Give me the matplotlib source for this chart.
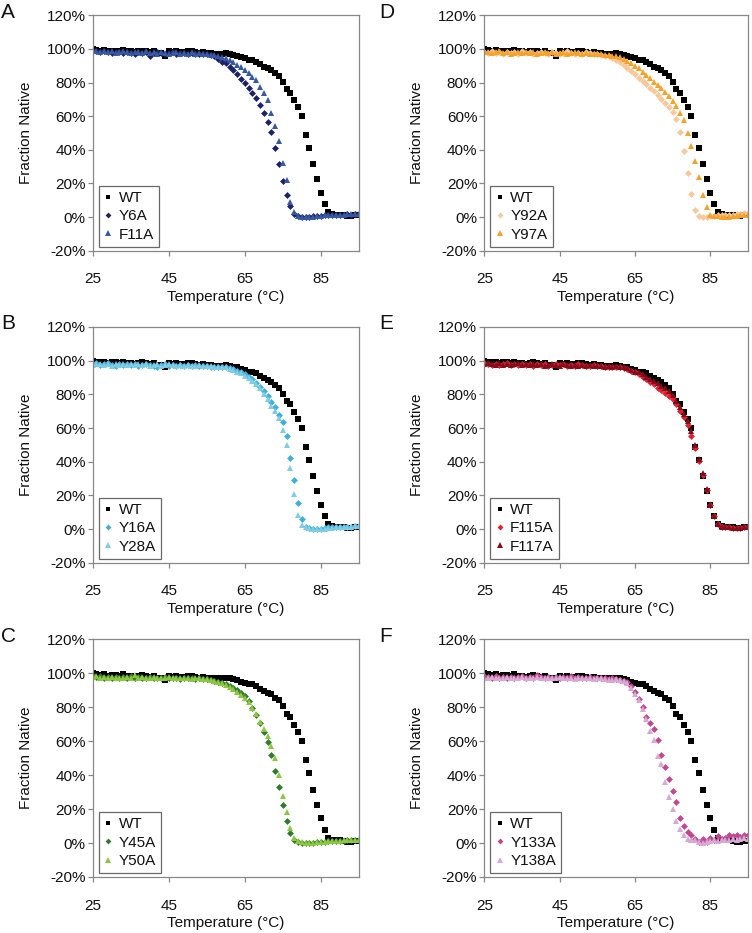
import numpy as np
import matplotlib
matplotlib.use("Agg")
import matplotlib.pyplot as plt
from matplotlib.ticker import FuncFormatter, FixedLocator, MultipleLocator

plt.rcParams['font.family'] = ['Liberation Sans', 'DejaVu Sans']

# melting curves, read every 1 degC from 25 to 95
temps = np.arange(25, 96)
x_ticks = [25, 45, 65, 85]

wt = [100, 99.5, 99, 99.5, 98.5, 99, 99, 98.5, 99.5, 98.5, 98.5, 98, 98.5, 99, 98.5,
      98, 98.5, 97.5, 97.5, 96, 98.5, 98, 98.5, 98, 98, 98.5, 98.5, 98, 97.5, 98,
      97.5, 97.5, 97, 97, 97,
      97.5, 97, 96.5, 96, 95, 94.5, 93.5, 93.5, 92.5, 91, 89.5, 88.5, 87.5, 85.5, 84,
      80.5, 76, 74, 69.5, 65.5, 60, 49, 41, 31.5, 22.5, 14.5, 7.5, 3, 2, 1.5,
      1.5, 1, 0.5, 0.5, 1, 1]

y6a = [99, 98.5, 98, 98.5, 98, 97.5, 98, 98, 97.5, 98, 97.5, 97, 98, 97.5, 98,
       96, 97.5, 98, 97.5, 97, 97.5, 98, 97, 97.5, 97.5, 97, 97.5, 97, 97, 97,
       97, 96.5, 95.5, 94, 92.5, 91.5, 89.5, 87.5, 85, 82, 79.5, 77, 74, 71, 66.5,
       62, 56.5, 50.5, 41, 31.5, 21.5, 13, 6.5, 2, 0.5, 0, 0, 0, 0.5, 0.5,
       0.5, 1, 1, 1, 1, 1.5, 1.5, 2, 1.5, 2, 2]
f11a = [98.5, 99, 98, 98.5, 98, 98.5, 97.5, 98, 98.5, 98, 97.5, 98, 98, 97.5, 98.5,
        97.5, 98, 97, 98, 97.5, 97, 97.5, 98, 97, 97.5, 97, 98, 97, 97.5, 97,
        97, 96.5, 96.5, 96, 95, 94.5, 93.5, 92, 90.5, 89, 87.5, 85.5, 83.5, 81.5, 77.5,
        74, 69.5, 62, 54, 45.5, 32, 22, 9, 3, 0.5, 0, 0, 0, 0, 0.5,
        0.5, 1, 1, 1, 1.5, 1.5, 1.5, 2, 2, 2, 2]

y16a = [98, 98.5, 97.5, 98, 98.5, 97.5, 97, 98, 97.5, 98, 97.5, 98, 97, 97.5, 98,
        97.5, 97, 96.5, 97.5, 98, 97, 97.5, 97, 97.5, 97, 97.5, 97, 97.5, 97, 97,
        97, 96.5, 96.5, 96, 96, 96, 95.5, 95, 94, 93, 92, 90.5, 89, 87, 84.5,
        82, 79, 75.5, 72.5, 68, 63.5, 55, 42, 29, 15.5, 6, 1.5, 0.5, 0, 0,
        0, 0.5, 1, 1, 1, 1, 1.5, 1.5, 1.5, 2, 2]
y28a = [97.5, 98, 98, 97.5, 98, 97, 98, 97.5, 98, 97.5, 98, 97.5, 98, 97.5, 98,
        97, 97.5, 98, 97, 97.5, 98, 97.5, 97, 97.5, 97, 97.5, 97, 97, 97.5, 97,
        97, 97, 96.5, 96.5, 96, 96, 95, 94.5, 93.5, 92.5, 91, 89.5, 88, 86, 83.5,
        80.5, 77.5, 73, 70, 66, 59, 50, 36, 21, 8.5, 2.5, 1, 0.5, 0, 0,
        0, 0, 0.5, 0.5, 1, 1, 1, 1.5, 1.5, 2, 2]

y45a = [98.5, 98, 98.5, 97.5, 98, 97.5, 98, 97, 98, 97.5, 98.5, 97.5, 98, 97, 97.5,
        98, 97, 97.5, 97, 98, 97.5, 97, 97.5, 96.5, 97, 97.5, 97, 96.5, 97, 96.5,
        96.5, 96, 95.5, 95, 94.5, 93.5, 92.5, 91.5, 90, 88.5, 86.5, 83.5, 79.5, 75.5, 70.5,
        65.5, 59.5, 52, 42.5, 33, 22.5, 13, 6, 2, 0.5, 0, 0, 0, 0, 0.5,
        0.5, 0.5, 1, 1, 1, 1, 1, 1.5, 1.5, 1.5, 1.5]
y50a = [98, 98.5, 97.5, 98, 97.5, 98, 97.5, 97, 97.5, 98, 97, 99, 97.5, 98, 97,
        97.5, 98, 97.5, 97, 97.5, 98, 97, 97.5, 97, 97.5, 97, 96.5, 97, 97, 96.5,
        96.5, 96, 95.5, 95, 94, 93, 92, 90.5, 89, 87, 85.5, 83, 79.5, 76, 71,
        67, 63, 57, 50, 40, 27.5, 18.5, 9, 3, 1, 0.5, 0, 0, 0, 0.5,
        0.5, 0.5, 1, 1, 1, 1, 1.5, 1.5, 1.5, 1.5, 1.5]

y92a = [98, 97.5, 98.5, 97.5, 98, 97, 98, 97.5, 98, 97, 98.5, 97.5, 98, 97, 97.5,
        98, 97.5, 97, 98, 97.5, 97, 97.5, 98.5, 97.5, 97, 97.5, 97, 98, 97.5, 97,
        97, 96.5, 96, 95.5, 94.5, 93.5, 92, 90.5, 88.5, 87, 85, 83, 81, 79, 77,
        75, 72.5, 70, 68, 65.5, 62.5, 58.5, 50.5, 39, 26, 13.5, 4, 0.5, 0, 0,
        0.5, 0.5, 1, 1, 1.5, 1.5, 1.5, 2, 2, 2.5, 2.5]
y97a = [98.5, 98, 97.5, 98, 98.5, 97.5, 98, 97, 97.5, 98, 97.5, 98, 97.5, 98, 97,
        97.5, 98, 97.5, 98, 97, 97.5, 98, 97, 97.5, 98, 97.5, 97, 97.5, 97, 97,
        97, 97, 96.5, 96.5, 96, 95.5, 95, 94, 93, 91.5, 90, 88.5, 86.5, 84.5, 82.5,
        80.5, 78.5, 76.5, 74.5, 72, 69, 66, 62, 58, 50, 42, 33.5, 24, 13, 6,
        1, 0.5, 0.5, 0, 0, 0, 0.5, 0.5, 1, 1, 1.5]

f115a = [98.5, 98, 97.5, 98, 97.5, 98, 98.5, 97.5, 98, 97.5, 98, 97.5, 98, 97, 98,
         97.5, 98, 97, 97.5, 98, 97.5, 98, 97, 97.5, 97, 98, 97.5, 97, 97, 97.5,
         97, 97, 96.5, 96.5, 96, 96.5, 96, 95.5, 95, 94, 93, 92, 90.5, 89, 87.5,
         86, 84, 82.5, 81, 79, 77, 74, 70, 66.5, 62, 55.5, 48, 40.5, 32, 23,
         14.5, 7.5, 3, 1.5, 1, 1, 0.5, 0.5, 0.5, 1, 1]
f117a = [98, 98.5, 98, 97.5, 98.5, 97.5, 98, 97.5, 98, 98.5, 97.5, 98, 97.5, 98, 97.5,
         98, 97, 97.5, 98, 97.5, 97, 98, 97.5, 97, 97.5, 97, 97.5, 97, 97.5, 97,
         97, 97, 96.5, 97, 96.5, 97, 96.5, 96, 95.5, 94.5, 93.5, 93, 92, 90.5, 89,
         88, 86.5, 85, 83.5, 82, 79.5, 76, 72.5, 68.5, 64, 58, 50, 41.5, 33, 23.5,
         14.5, 7.5, 3, 1.5, 1, 1, 0.5, 0.5, 0.5, 1, 1]

y133a = [98.5, 98, 97.5, 98.5, 97.5, 98, 97, 98, 97.5, 98, 98.5, 97.5, 98, 97.5, 99,
         98, 97.5, 98, 97.5, 98, 97, 98, 97.5, 98.5, 97.5, 98, 97.5, 97, 98, 97.5,
         97.5, 97, 97, 96.5, 97.5, 96.5, 96, 95.5, 95, 92.5, 89, 85, 80, 74.5, 70.5,
         67, 60.5, 52, 45, 37.5, 30.5, 24, 15, 10, 6.5, 4.5, 2.5, 0.5, 2.5, 0.5,
         3, 2, 4, 2.5, 3, 5, 4, 4.5, 3.5, 5, 5]
y138a = [97.5, 97, 98, 97.5, 97, 97.5, 98, 97, 97.5, 97, 98, 97.5, 97, 97.5, 98,
         97, 97.5, 97, 97.5, 97, 98, 97, 97.5, 97, 96.5, 97.5, 97, 97.5, 97, 96.5,
         97, 97, 96.5, 96, 96, 96.5, 96, 95.5, 94, 91.5, 88, 84, 79, 73, 66,
         60.5, 51, 46.5, 36, 27, 20, 13, 8, 4.5, 2.5, 1.5, 1.5, 0.5, 0, 0.5,
         1, 1.5, 1, 2, 1.5, 2, 2.5, 2, 2.5, 3, 2.5]

panel_letters = ["A", "B", "C", "D", "E", "F"]
mutant_names = [("Y6A", "F11A"), ("Y16A", "Y28A"), ("Y45A", "Y50A"),
                ("Y92A", "Y97A"), ("F115A", "F117A"), ("Y133A", "Y138A")]
mutant_data = [(y6a, f11a), (y16a, y28a), (y45a, y50a),
               (y92a, y97a), (f115a, f117a), (y133a, y138a)]
mutant_colors = [("#1c2265", "#3759a3"), ("#3bb0e2", "#80cde3"), ("#2f7a2c", "#8dc63f"),
                 ("#f9c799", "#f6a128"), ("#e3202c", "#860b1d"), ("#c2488e", "#d8a9d6")]

W, H = 752, 933
fig = plt.figure(figsize=(W / 100, H / 100), dpi=100)

col_left = [92.7, 484.3]
col_width = [266.0, 263.7]
row_top = [15.3, 327.0, 639.3]
row_bottom = [250.7, 562.7, 877.0]
letter_base = [18.3, 329.3, 642.5]
letter_x = [1.0, 379.0]

pct = FuncFormatter(lambda v, p: "%d%%" % round(v))
grey = "#888888"

for i in range(6):
    col, row = i // 3, i % 3
    ax = fig.add_axes([col_left[col] / W, 1 - row_bottom[row] / H,
                       col_width[col] / W, (row_bottom[row] - row_top[row]) / H])
    (n1, n2), (d1, d2), (c1, c2) = mutant_names[i], mutant_data[i], mutant_colors[i]
    ax.plot(temps, wt, "s", color="black", ms=3.8, mew=0, label="WT")
    ax.plot(temps, d1, "D", color=c1, ms=3.5, mew=0, label=n1)
    ax.plot(temps, d2, "^", color=c2, ms=4.6, mew=0, label=n2)

    ax.set_xlim(25, 95)
    ax.set_ylim(-20, 120)
    ax.xaxis.set_major_locator(FixedLocator(x_ticks))
    ax.yaxis.set_major_locator(MultipleLocator(20))
    ax.yaxis.set_major_formatter(pct)
    for s in ax.spines.values():
        s.set_color(grey)
        s.set_linewidth(0.9)
    ax.tick_params(axis="both", direction="out", length=3.5, width=0.9, color=grey,
                   labelsize=11, labelcolor="#111111")
    ax.tick_params(axis="x", pad=12)
    ax.tick_params(axis="y", pad=1.5)

    ax.set_xlabel("Temperature (°C)", fontsize=11, color="#111111")
    ax.set_ylabel("Fraction Native", fontsize=11, color="#111111")
    ax.xaxis.set_label_coords(0.5, -0.165)
    ax.yaxis.set_label_coords(-0.225 if col == 0 else -0.228, 0.5)

    leg = ax.legend(loc="lower left", bbox_to_anchor=(0.023, 0.016), borderaxespad=0,
                    fontsize=11, frameon=True, fancybox=False, edgecolor="#444444",
                    handlelength=0.5, handletextpad=0.45, borderpad=0.35,
                    labelspacing=0.28, markerscale=0.85)
    leg.get_frame().set_linewidth(0.9)
    for t in leg.get_texts():
        t.set_color("#111111")

    fig.text(letter_x[col] / W, 1 - letter_base[row] / H, panel_letters[i],
             fontsize=15, ha="left", va="baseline", color="#111111")

fig.savefig("out.png", dpi=100, facecolor="white")
